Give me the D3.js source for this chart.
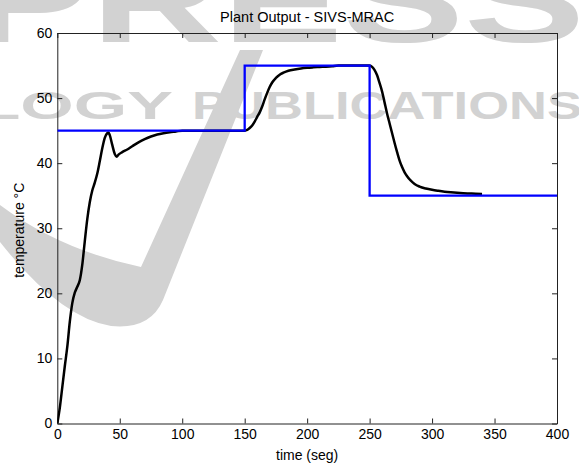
<!DOCTYPE html>
<html>
<head>
<meta charset="utf-8">
<script src="https://cdn.jsdelivr.net/npm/d3@7/dist/d3.min.js"></script>
<style>
  html, body { margin: 0; padding: 0; background: #fff; }
  svg text { font-family: "Liberation Sans", Arial, Helvetica, sans-serif; }
</style>
</head>
<body>
<svg id="chart" width="579" height="471"></svg>
<script>
// Reference (setpoint) steps: value holds from each time until the next
const refTimes  = [0, 150, 250, 400];
const refValues = [45, 55, 35, 35];

// Plant output temperature samples (time in s, temperature in °C)
const outTimes = [0, 2, 4, 6, 8, 10, 12, 14, 16, 18, 20, 22, 24, 26, 28, 30, 32, 34, 36, 38, 40, 41, 42, 44, 46, 47.5, 49, 52, 56, 60, 65, 70, 75, 80, 85, 90, 95, 100, 110, 150,
  152, 154, 156, 158, 160, 162, 164, 166, 168, 170, 172, 175, 178, 181, 185, 190, 195, 200, 205, 210, 215, 220, 225, 250,
  252, 254, 256, 258, 260, 262, 264, 266, 268, 270, 272, 274, 276, 278, 280, 283, 286, 290, 295, 300, 305, 310, 315, 320, 325, 330, 335, 340];
const outValues = [0, 2.4, 5.6, 8.8, 11.8, 15.6, 18.5, 20.1, 21.0, 22.0, 24.4, 28.0, 31.4, 34.0, 35.8, 37.0, 38.4, 40.3, 42.3, 43.9, 44.6, 44.7, 44.3, 42.8, 41.4, 41.0, 41.3, 41.7, 42.1, 42.6, 43.2, 43.7, 44.1, 44.4, 44.6, 44.75, 44.87, 45, 45, 45,
  45.1, 45.4, 45.8, 46.4, 47.1, 47.8, 48.7, 49.8, 50.8, 51.7, 52.4, 53.1, 53.6, 53.9, 54.2, 54.4, 54.55, 54.65, 54.72, 54.78, 54.83, 54.9, 55, 55,
  54.8, 54.3, 53.5, 52.3, 51.0, 49.3, 47.6, 46.1, 44.6, 43.1, 41.7, 40.4, 39.4, 38.6, 38.0, 37.3, 36.8, 36.4, 36.1, 35.9, 35.75, 35.62, 35.52, 35.44, 35.38, 35.34, 35.3, 35.28];

const xTicks = [0, 50, 100, 150, 200, 250, 300, 350, 400];
const yTicks = [0, 10, 20, 30, 40, 50, 60];

const titleText = "Plant Output - SIVS-MRAC";
const xLabelText = "time (seg)";
const yLabelText = "temperature \u00B0C";

const W = 579, H = 471;
const plot = { left: 57.3, right: 557, top: 33, bottom: 423.5 };

const svg = d3.select("#chart");
svg.append("rect").attr("width", W).attr("height", H).attr("fill", "#fff");

// Publisher watermark behind the figure
const wm = svg.append("g").attr("fill", "#d2d2d2");
wm.append("text")
  .attr("x", -30).attr("y", 42)
  .attr("font-size", 118).attr("font-weight", "bold")
  .attr("textLength", 615).attr("lengthAdjust", "spacingAndGlyphs")
  .text("PRESS");
wm.append("text")
  .attr("x", -75).attr("y", 119)
  .attr("font-size", 38).attr("font-weight", "bold")
  .attr("textLength", 248).attr("lengthAdjust", "spacingAndGlyphs")
  .text("OLOGY");
wm.append("text")
  .attr("x", 192).attr("y", 119)
  .attr("font-size", 38).attr("font-weight", "bold")
  .attr("textLength", 390).attr("lengthAdjust", "spacingAndGlyphs")
  .text("PUBLICATIONS");
wm.append("path")
  .attr("d", "M240,50 L263,50 L163,300 Q150,330 111,326 Q60,318 0,242 L0,205 Q60,250 141,267 Z");

const x = d3.scaleLinear().domain([0, 400]).range([plot.left, plot.right]);
const y = d3.scaleLinear().domain([0, 60]).range([plot.bottom, plot.top]);

const axisColor = "#222";
function styleAxis(g) {
  g.selectAll(".domain").attr("stroke", axisColor);
  g.selectAll(".tick line").attr("stroke", axisColor);
  g.selectAll("text").attr("fill", "#000").attr("font-size", 14)
    .attr("font-family", "'Liberation Sans', Arial, sans-serif");
}

svg.append("g").attr("transform", `translate(0,${plot.bottom})`)
  .call(d3.axisBottom(x).tickValues(xTicks).tickSizeInner(-5).tickSizeOuter(0).tickPadding(6))
  .call(styleAxis);
svg.append("g").attr("transform", `translate(0,${plot.top})`)
  .call(d3.axisTop(x).tickValues(xTicks).tickSizeInner(-5).tickSizeOuter(0).tickFormat(""))
  .call(styleAxis);
svg.append("g").attr("transform", `translate(${plot.left},0)`)
  .call(d3.axisLeft(y).tickValues(yTicks).tickSizeInner(-5).tickSizeOuter(0).tickPadding(5))
  .call(styleAxis);
svg.append("g").attr("transform", `translate(${plot.right},0)`)
  .call(d3.axisRight(y).tickValues(yTicks).tickSizeInner(-5).tickSizeOuter(0).tickFormat(""))
  .call(styleAxis);

const clip = svg.append("defs").append("clipPath").attr("id", "plotClip");
clip.append("rect").attr("x", plot.left).attr("y", plot.top)
  .attr("width", plot.right - plot.left).attr("height", plot.bottom - plot.top);

const outData = outTimes.map((t, i) => [t, outValues[i]]);
const refData = refTimes.map((t, i) => [t, refValues[i]]);

const lines = svg.append("g").attr("clip-path", "url(#plotClip)");
lines.append("path")
  .datum(outData)
  .attr("fill", "none").attr("stroke", "#000").attr("stroke-width", 2.5)
  .attr("stroke-linejoin", "round")
  .attr("d", d3.line().x(d => x(d[0])).y(d => y(d[1])).curve(d3.curveMonotoneX));
lines.append("path")
  .datum(refData)
  .attr("fill", "none").attr("stroke", "#0000ff").attr("stroke-width", 2.3)
  .attr("d", d3.line().x(d => x(d[0])).y(d => y(d[1])).curve(d3.curveStepAfter));

svg.append("text")
  .attr("x", (plot.left + plot.right) / 2).attr("y", 22)
  .attr("text-anchor", "middle").attr("font-size", 14.5).attr("fill", "#000")
  .text(titleText);
svg.append("text")
  .attr("x", (plot.left + plot.right) / 2).attr("y", 460)
  .attr("text-anchor", "middle").attr("font-size", 14).attr("fill", "#000")
  .text(xLabelText);
svg.append("text")
  .attr("transform", `translate(24,${(plot.top + plot.bottom) / 2 + 2}) rotate(-90)`)
  .attr("text-anchor", "middle").attr("font-size", 14).attr("fill", "#000")
  .text(yLabelText);
</script>
</body>
</html>
